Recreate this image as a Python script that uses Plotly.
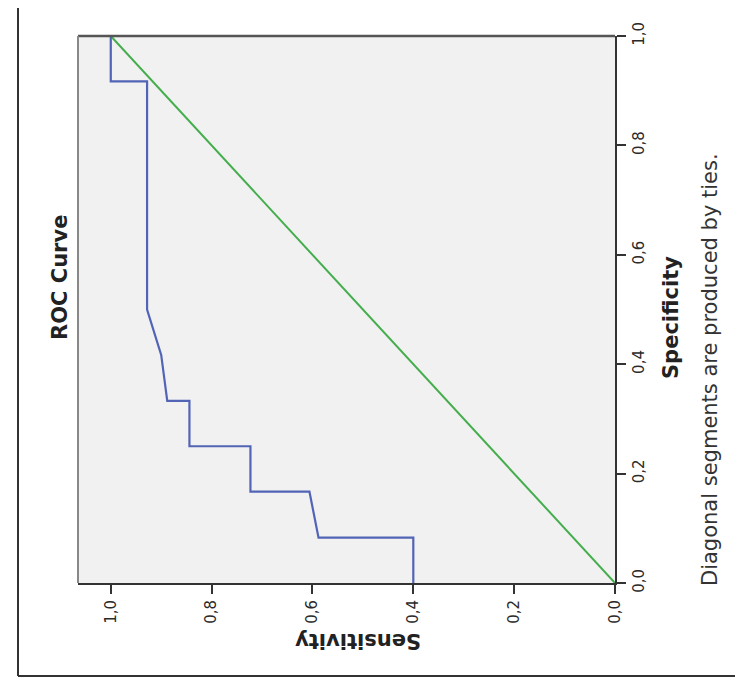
import plotly.graph_objects as go

# ROC curve data
sensitivity = [1.0, 1.0, 0.928, 0.928, 0.90, 0.888, 0.844, 0.844, 0.723, 0.723, 0.606, 0.588, 0.40, 0.40]
specificity = [1.0, 0.917, 0.917, 0.5, 0.417, 0.333, 0.333, 0.25, 0.25, 0.167, 0.167, 0.083, 0.083, 0.0]
ref_x = [0.0, 1.0]
ref_y = [0.0, 1.0]
tick_vals = [0.0, 0.2, 0.4, 0.6, 0.8, 1.0]
tick_text = ["0,0", "0,2", "0,4", "0,6", "0,8", "1,0"]

FONT = "DejaVu Sans, Arial, sans-serif"

fig = go.Figure()
fig.add_trace(go.Scatter(x=ref_x, y=ref_y, mode="lines",
                         line=dict(color="#44ad4c", width=2), hoverinfo="skip"))
fig.add_trace(go.Scatter(x=sensitivity, y=specificity, mode="lines",
                         line=dict(color="#5264b6", width=2.2), hoverinfo="skip"))

W, H = 743, 684
L, R, T, B = 70, 607, 28, 575
pw, ph = R - L, B - T

def px(x):
    return (x - L) / pw

def py(y):
    return (B - y) / ph

axis_common = dict(tickvals=tick_vals, ticktext=tick_text, tickangle=-90,
                   ticks="outside", ticklen=9, tickwidth=2, tickcolor="#333",
                   tickfont=dict(size=15, color="#2a2a2a", family=FONT),
                   showgrid=False, zeroline=False, showline=True,
                   linecolor="#333", linewidth=2)

fig.update_layout(
    width=W, height=H,
    margin=dict(l=L, r=W - R, t=T, b=H - B, pad=0),
    paper_bgcolor="white",
    plot_bgcolor="#f1f1f1",
    showlegend=False,
    font=dict(family=FONT, color="#222"),
    xaxis=dict(range=[1.065, 0.0], **axis_common),
    yaxis=dict(range=[0.0, 1.0], side="right", **axis_common),
)

# grey frame on the top and left of the plot area
fig.add_shape(type="line", xref="paper", yref="paper", x0=0, x1=1, y0=1, y1=1,
              line=dict(color="#555", width=2.5))
fig.add_shape(type="line", xref="paper", yref="paper", x0=0, x1=0, y0=0, y1=1,
              line=dict(color="#888", width=2))

# outer chart frame (left and bottom edges)
fig.add_shape(type="line", xref="paper", yref="paper", x0=px(10), x1=px(10), y0=py(0), y1=py(668),
              line=dict(color="#333", width=2))
fig.add_shape(type="line", xref="paper", yref="paper", x0=px(10), x1=px(743), y0=py(668), y1=py(668),
              line=dict(color="#333", width=2))

fig.add_annotation(text="<b>ROC Curve</b>", xref="paper", yref="paper", x=px(38), y=py(270),
                   textangle=-90, showarrow=False, font=dict(size=21, color="#222"))
fig.add_annotation(text="<b>Sensitivity</b>", xref="paper", yref="paper", x=px(350), y=py(647),
                   textangle=180, showarrow=False, font=dict(size=21, color="#222"))
fig.add_annotation(text="<b>Specificity</b>", xref="paper", yref="paper", x=px(677), y=py(310),
                   textangle=-90, showarrow=False, font=dict(size=21, color="#222"))
fig.add_annotation(text="Diagonal segments are produced by ties.", xref="paper", yref="paper",
                   x=px(716), y=py(362), textangle=-90, showarrow=False,
                   font=dict(size=21, color="#333"))

fig.write_html("out.html")
